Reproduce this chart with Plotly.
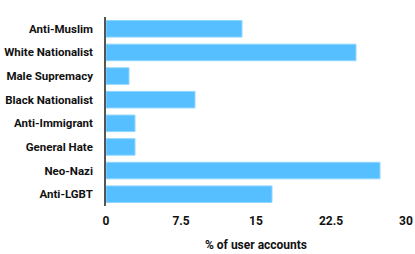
import plotly.graph_objects as go

categories = ["Anti-Muslim", "White Nationalist", "Male Supremacy", "Black Nationalist",
              "Anti-Immigrant", "General Hate", "Neo-Nazi", "Anti-LGBT"]
values = [13.6, 25.0, 2.3, 8.9, 2.9, 2.9, 27.4, 16.6]
tick_vals = [0, 7.5, 15, 22.5, 30]
tick_text = ["0", "7.5", "15", "22.5", "30"]

FONT = "Roboto, sans-serif"

fig = go.Figure(go.Bar(
    x=values, y=categories, orientation="h",
    marker=dict(color="#55BFFF", line=dict(color="#8FD6FF", width=1)),
    hoverinfo="skip",
))

fig.update_layout(
    width=415, height=254,
    margin=dict(l=106, r=9, t=17, b=48),
    paper_bgcolor="white", plot_bgcolor="white",
    bargap=0.3,
    showlegend=False,
    font=dict(family=FONT, size=12, color="#111111"),
)
fig.update_xaxes(
    range=[0, 30], tickvals=tick_vals, ticktext=tick_text, automargin=False,
    showgrid=False, zeroline=False, showline=False,
    ticks="outside", ticklen=4, tickcolor="rgba(0,0,0,0)",
    tickfont=dict(family=FONT, size=12, color="#111111", weight="bold"),
    title=dict(text="% of user accounts", standoff=13,
               font=dict(family=FONT, size=12, color="#111111", weight="bold")),
)
fig.update_yaxes(
    categoryorder="array", categoryarray=categories, autorange="reversed",
    automargin=False,
    showgrid=False, zeroline=False, showline=True, linecolor="#555555", linewidth=1.5,
    ticks="outside", ticklen=9, tickcolor="rgba(0,0,0,0)",
    tickfont=dict(family=FONT, size=11.5, color="#111111", weight="bold"),
)

fig.write_html("out.html", config={"displayModeBar": False},
               post_script="document.body.style.margin='0';")
